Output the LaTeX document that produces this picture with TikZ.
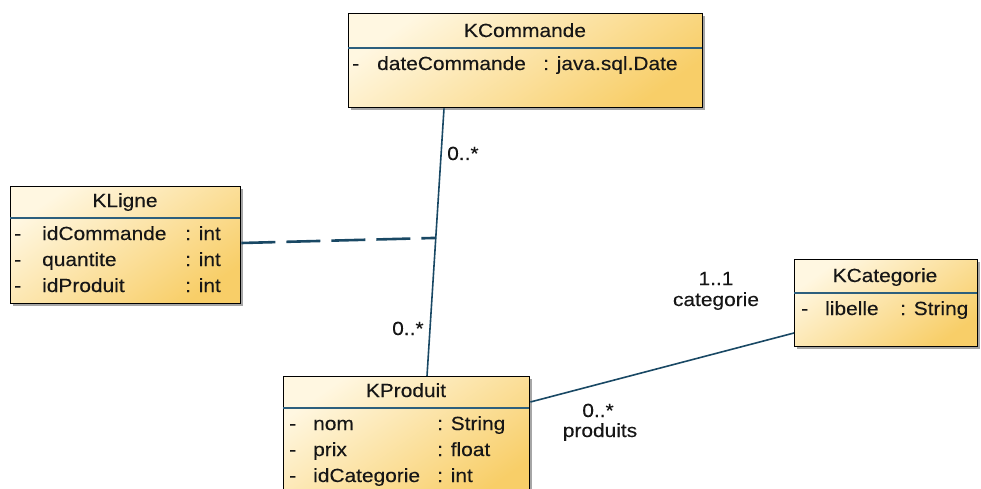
\documentclass[tikz,border=0pt]{standalone}
\usepackage{fontspec}
\setmainfont{Liberation Sans}[FakeStretch=1.1, FakeBold=0.25]
\usetikzlibrary{calc,shadows}
\definecolor{lnk}{RGB}{25,72,100}
\definecolor{sep}{RGB}{45,95,125}
\definecolor{boxlight}{RGB}{255,247,225}
\definecolor{boxdark}{RGB}{248,206,104}
\definecolor{txt}{RGB}{22,22,22}
\tikzset{
  classbox/.style={draw=black, line width=1.4pt, top color=boxlight, bottom color=boxdark,
    shading angle=35, anchor=north west, inner sep=0pt,
    drop shadow={shadow xshift=2.5pt, shadow yshift=-2.5pt, fill=black, opacity=0.35}},
  sepline/.style={draw=sep, line width=1.3pt},
  lbl/.style={inner sep=0pt, text=txt, font=\fontsize{19}{22}\selectfont},
  assoc/.style={draw=lnk, line width=1.6pt},
  dashlink/.style={draw=lnk, line width=2.6pt, dash pattern=on 34pt off 11pt}
}
\begin{document}
\begin{tikzpicture}[x=1pt,y=-1pt]
\useasboundingbox (0,0) rectangle (981,489);
% classes
\node[classbox, minimum width=354pt, minimum height=94pt] (kcom) at (348,13) {};
\node[classbox, minimum width=230pt, minimum height=117pt] (klig) at (10,186) {};
\node[classbox, minimum width=246pt, minimum height=125pt] (kpro) at (283,376) {};
\node[classbox, minimum width=183pt, minimum height=87pt] (kcat) at (794,259) {};
% separators
\draw[sepline] (348,48) -- (702,48);
\draw[sepline] (10,218) -- (240,218);
\draw[sepline] (283,408) -- (529,408);
\draw[sepline] (794,293) -- (977,293);
% KCommande
\node[lbl, anchor=base] (kcomT) at (525,37) {KCommande};
\node[lbl, anchor=base west] (kcm1) at (352,70) {-};
\node[lbl, anchor=base west] (kcn1) at (377,70) {dateCommande};
\node[lbl, anchor=base west] (kct1) at (543,70) {: java.sql.Date};
% KLigne
\node[lbl, anchor=base] (kligT) at (125,207) {KLigne};
\node[lbl, anchor=base west] (klm1) at (14,240) {-};
\node[lbl, anchor=base west] (kln1) at (42,240) {idCommande};
\node[lbl, anchor=base west] (klt1) at (185,240) {: int};
\node[lbl, anchor=base west] (klm2) at (14,266) {-};
\node[lbl, anchor=base west] (kln2) at (42,266) {quantite};
\node[lbl, anchor=base west] (klt2) at (185,266) {: int};
\node[lbl, anchor=base west] (klm3) at (14,292) {-};
\node[lbl, anchor=base west] (kln3) at (42,292) {idProduit};
\node[lbl, anchor=base west] (klt3) at (185,292) {: int};
% KProduit
\node[lbl, anchor=base] (kproT) at (406,397) {KProduit};
\node[lbl, anchor=base west] (kpm1) at (289,430) {-};
\node[lbl, anchor=base west] (kpn1) at (313,430) {nom};
\node[lbl, anchor=base west] (kpt1) at (437,430) {: String};
\node[lbl, anchor=base west] (kpm2) at (289,456) {-};
\node[lbl, anchor=base west] (kpn2) at (313,456) {prix};
\node[lbl, anchor=base west] (kpt2) at (437,456) {: float};
\node[lbl, anchor=base west] (kpm3) at (289,482) {-};
\node[lbl, anchor=base west] (kpn3) at (313,482) {idCategorie};
\node[lbl, anchor=base west] (kpt3) at (437,482) {: int};
% KCategorie
\node[lbl, anchor=base] (kcatT) at (885,282) {KCategorie};
\node[lbl, anchor=base west] (kcam1) at (801,315) {-};
\node[lbl, anchor=base west] (kcan1) at (825,315) {libelle};
\node[lbl, anchor=base west] (kcat1) at (900,315) {: String};
% connectors
\coordinate (cA) at ($(kcom.south west)+(96,0)$);
\coordinate (cB) at ($(kpro.north west)+(144,0)$);
\coordinate (cJ) at ($(cA)!0.484!(cB)$);
\coordinate (lA) at ($(klig.north east)+(0,57)$);
\draw[assoc] (cA) -- (cB);
\draw[dashlink] (lA) -- (cJ);
\coordinate (pA) at ($(kpro.north east)+(0,26)$);
\coordinate (kA) at ($(kcat.north west)+(0,74)$);
\draw[assoc] (pA) -- (kA);
% multiplicities
\node[lbl, anchor=base west] (m1) at (447,160) {0..*};
\node[lbl, anchor=base west] (m2) at (392,335) {0..*};
\node[lbl, anchor=base] (m3) at (716,285) {1..1};
\node[lbl, anchor=base] (r3) at (716,306) {categorie};
\node[lbl, anchor=base] (m4) at (598,417) {0..*};
\node[lbl, anchor=base] (r4) at (600,437) {produits};
\end{tikzpicture}
\end{document}
